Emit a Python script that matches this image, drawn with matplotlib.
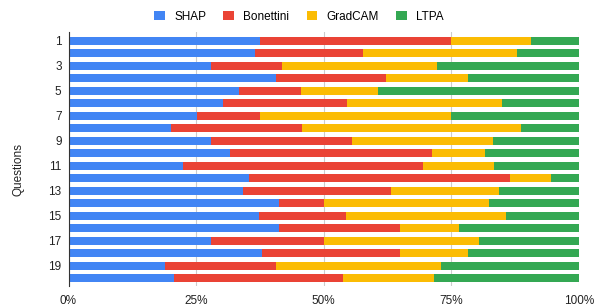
import numpy as np
import matplotlib.pyplot as plt
from matplotlib.ticker import PercentFormatter

plt.rcParams['font.family'] = ['Liberation Sans', 'DejaVu Sans']

# データ（各質問ごとの割合 %）
questions = [str(i) for i in range(1, 21)]
shap = [37.6, 36.5, 27.9, 40.6, 33.5, 30.3, 25.2, 20.0, 27.9, 31.7,
        22.4, 35.3, 34.3, 41.3, 37.3, 41.3, 27.9, 37.9, 19.0, 20.6]
bonettini = [37.4, 21.2, 13.9, 21.7, 12.1, 24.2, 12.4, 25.8, 27.6, 39.6,
             47.0, 51.2, 29.0, 8.7, 17.0, 23.6, 22.1, 27.0, 21.6, 33.3]
gradcam = [15.7, 30.2, 30.5, 16.0, 15.1, 30.4, 37.4, 42.9, 27.8, 10.4,
           14.0, 8.1, 21.0, 32.5, 31.4, 11.7, 30.5, 13.4, 32.4, 17.8]
ltpa = [9.3, 12.1, 27.7, 21.7, 39.3, 15.1, 25.0, 11.3, 16.7, 18.3,
        16.6, 5.4, 15.7, 17.5, 14.3, 23.4, 19.5, 21.7, 27.0, 28.3]

series = {"SHAP": shap, "Bonettini": bonettini, "GradCAM": gradcam, "LTPA": ltpa}
colors = ["#4285F4", "#EA4335", "#FBBC04", "#34A853"]

fig = plt.figure(figsize=(5.98, 3.06), dpi=100)
ax = fig.add_axes([68.5 / 598, 20 / 306, 510.2 / 598, 254 / 306])

y = np.arange(len(questions))
left = np.zeros(len(questions))
for (name, vals), c in zip(series.items(), colors):
    vals = np.array(vals)
    ax.barh(y, vals, left=left, height=0.66, color=c, label=name, zorder=2)
    left += vals

ax.set_xlim(0, 100)
ax.set_ylim(19.62, -0.7)
ax.set_xticks([0, 25, 50, 75, 100])
ax.xaxis.set_major_formatter(PercentFormatter(decimals=0))
ax.set_yticks(y[::2])
ax.set_yticklabels(questions[::2])
ax.grid(axis='x', color='#cccccc', linewidth=0.8, zorder=0)
for s in ['top', 'right', 'bottom']:
    ax.spines[s].set_visible(False)
ax.spines['left'].set_color('#333333')
ax.tick_params(axis='both', length=0, labelsize=8.5, colors='#222222')
ax.tick_params(axis='y', pad=5)
ax.tick_params(axis='x', pad=6.3)
ax.set_ylabel("Questions", fontsize=8.5, color='#222222')
ax.yaxis.set_label_coords(-0.087, 0.457)

fig.legend(loc='upper center', bbox_to_anchor=(0.5, 1.0), ncol=4, frameon=False,
           fontsize=8.5, handlelength=0.9, handleheight=0.9, columnspacing=1.45,
           handletextpad=0.8)

plt.savefig("out.png", dpi=100)
